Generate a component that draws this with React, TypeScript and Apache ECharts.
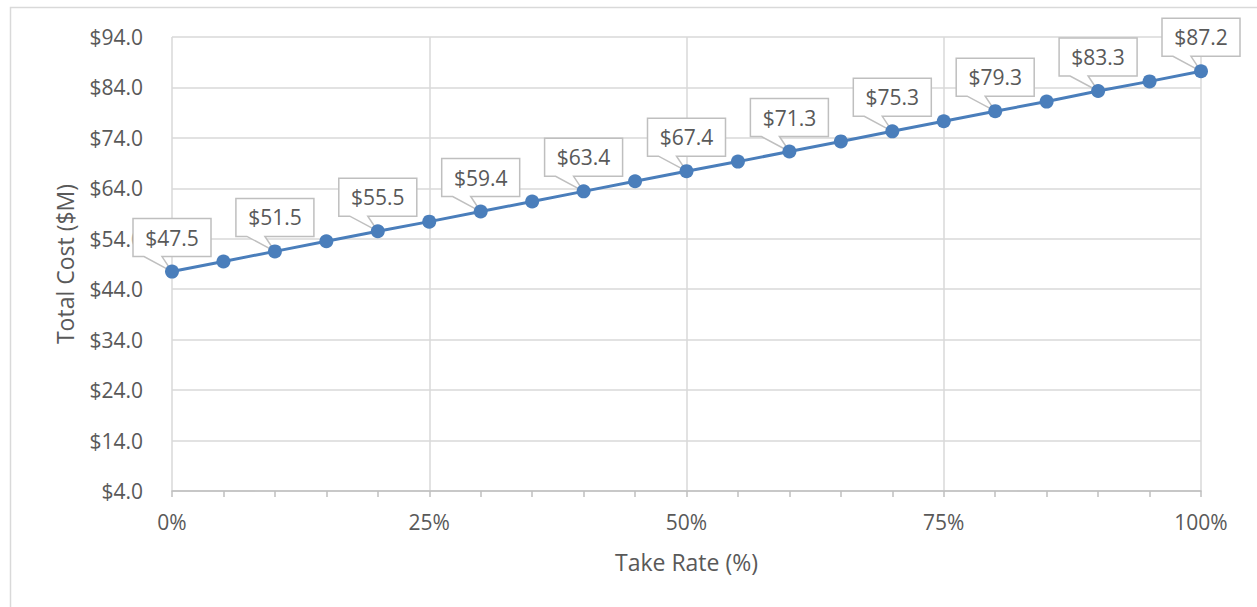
import React, { useEffect, useRef } from "react";
import * as echarts from "echarts";

const takeRates = [0, 5, 10, 15, 20, 25, 30, 35, 40, 45, 50, 55, 60, 65, 70, 75, 80, 85, 90, 95, 100];
const totalCosts = [47.5, 49.5, 51.5, 53.5, 55.5, 57.4, 59.4, 61.4, 63.4, 65.4, 67.4, 69.3, 71.3, 73.3, 75.3, 77.3, 79.3, 81.2, 83.3, 85.2, 87.2];
const labeledRates = [0, 10, 20, 30, 40, 50, 60, 70, 80, 90, 100];
const yTicks = { min: 4, max: 94, step: 10 };
const xTicks = { min: 0, max: 100, step: 25 };

const TEXT = "#595959";
const GRID = "#d9d9d9";
const BLUE = "#4a7ebb";
const FONT = "'Open Sans', 'Noto Sans', sans-serif";

export default function App() {
  const ref = useRef<HTMLDivElement>(null);
  useEffect(() => {
    document.body.style.margin = "0";
    if (!ref.current) return;
    const chart = echarts.init(ref.current, undefined, { renderer: "svg" });
    const lineData = takeRates.map((r, i) => [r, totalCosts[i]]);
    const calloutData = labeledRates.map((r) => [r, totalCosts[takeRates.indexOf(r)]]);
    chart.setOption({
      animation: false,
      backgroundColor: "#ffffff",
      textStyle: { fontFamily: FONT },
      graphic: [
        {
          type: "rect",
          shape: { x: 10.5, y: 7.5, width: 1280, height: 640 },
          style: { fill: "none", stroke: GRID, lineWidth: 1.5 },
          silent: true,
          z: -10,
        },
      ],
      grid: { left: 172, right: 56, top: 37, bottom: 116, containLabel: false },
      xAxis: {
        type: "value",
        min: xTicks.min,
        max: xTicks.max,
        interval: xTicks.step,
        name: "Take Rate (%)",
        nameLocation: "middle",
        nameGap: 59,
        nameTextStyle: { color: TEXT, fontSize: 23, fontFamily: FONT },
        axisLine: { show: true, lineStyle: { color: "#bfbfbf", width: 1.5 } },
        axisTick: { show: true, length: 6, lineStyle: { color: "#bfbfbf", width: 1.5 } },
        minorTick: { show: true, splitNumber: 5, length: 6, lineStyle: { color: "#bfbfbf", width: 1.5 } },
        axisLabel: {
          color: TEXT,
          fontSize: 21,
          fontFamily: FONT,
          margin: 20,
          formatter: (v: number) => `${v}%`,
        },
        splitLine: { show: true, lineStyle: { color: GRID, width: 1.5 } },
      },
      yAxis: {
        type: "value",
        min: yTicks.min,
        max: yTicks.max,
        interval: yTicks.step,
        name: "Total Cost ($M)",
        nameLocation: "middle",
        nameGap: 96,
        nameRotate: 90,
        nameTextStyle: { color: TEXT, fontSize: 23, fontFamily: FONT },
        axisLine: { show: false },
        axisTick: { show: false },
        axisLabel: {
          color: TEXT,
          fontSize: 21,
          fontFamily: FONT,
          margin: 29,
          formatter: (v: number) => `$${v.toFixed(1)}`,
        },
        splitLine: { show: true, lineStyle: { color: GRID, width: 1.5 } },
      },
      series: [
        {
          type: "custom",
          z: 3,
          clip: false,
          data: calloutData,
          renderItem: (params: any, api: any) => {
            const pt = api.coord([api.value(0), api.value(1)]);
            const cx = pt[0];
            const cy = pt[1];
            const w = 78;
            const h = 38;
            const gap = 15;
            const x0 = cx - w / 2;
            const x1 = cx + w / 2;
            const yb = cy - gap;
            const yt = yb - h;
            return {
              type: "group",
              children: [
                {
                  type: "polygon",
                  shape: {
                    points: [
                      [x0, yt],
                      [x1, yt],
                      [x1, yb],
                      [cx - 10, yb],
                      [cx, cy],
                      [cx - 28, yb],
                      [x0, yb],
                    ],
                  },
                  style: { fill: "#ffffff", stroke: "#bfbfbf", lineWidth: 1.5 },
                },
                {
                  type: "text",
                  x: cx,
                  y: (yt + yb) / 2,
                  style: {
                    text: `$${Number(api.value(1)).toFixed(1)}`,
                    fill: TEXT,
                    fontSize: 21,
                    fontFamily: FONT,
                    align: "center",
                    verticalAlign: "middle",
                  },
                },
              ],
            };
          },
        },
        {
          type: "line",
          z: 4,
          data: lineData,
          symbol: "circle",
          symbolSize: 14,
          itemStyle: { color: BLUE },
          lineStyle: { color: BLUE, width: 3 },
          label: { show: false },
        },
      ],
    });
    return () => chart.dispose();
  }, []);
  return <div ref={ref} style={{ width: 1257, height: 607 }} />;
}
